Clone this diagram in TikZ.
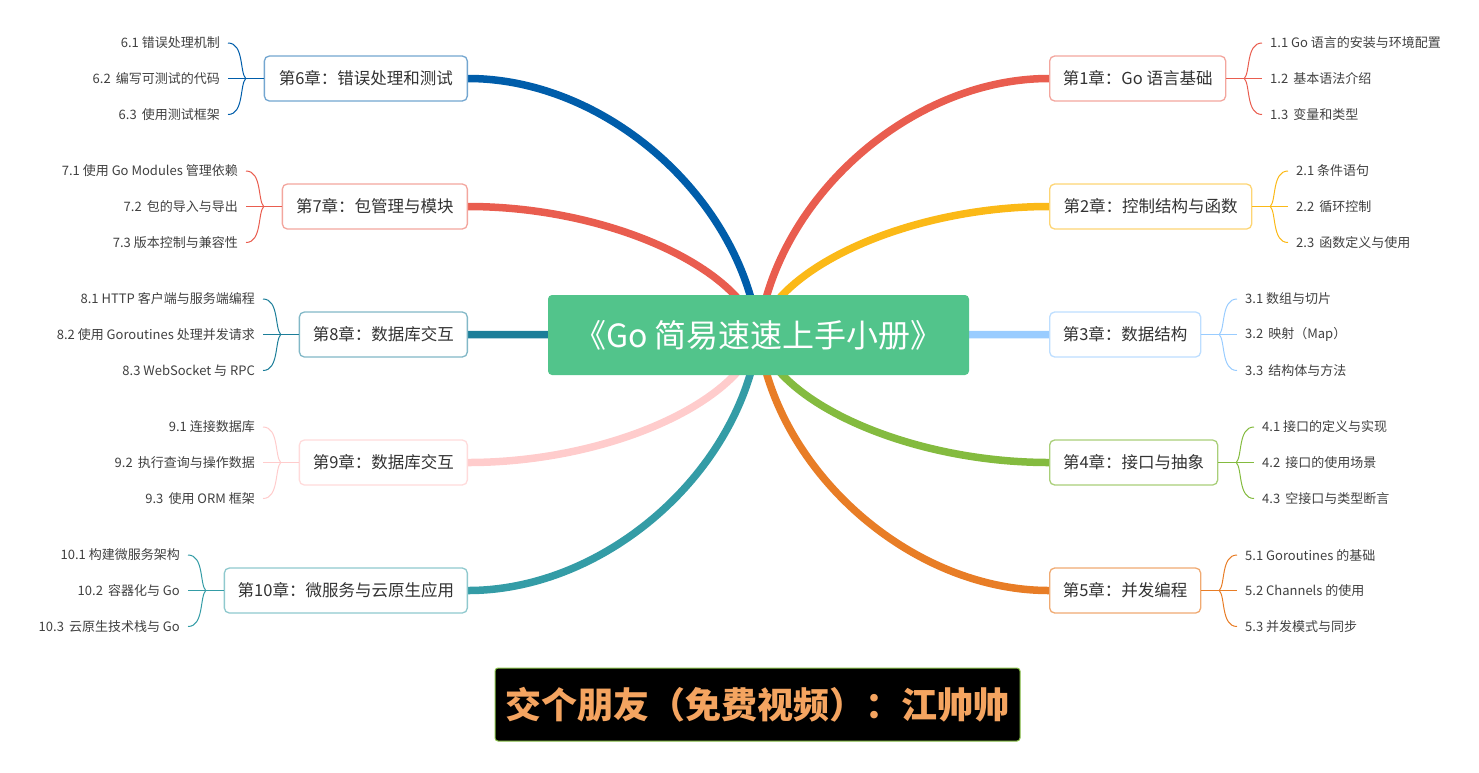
\documentclass[tikz,border=0pt]{standalone}
\usepackage{fontspec}
\setmainfont{Noto Sans CJK SC}
\usetikzlibrary{backgrounds}
\definecolor{txt}{HTML}{333333}
\definecolor{subtxt}{HTML}{404040}
\definecolor{rootg}{HTML}{52C48B}
\definecolor{k1}{HTML}{E95D4F}
\definecolor{k2}{HTML}{FBB917}
\definecolor{k3}{HTML}{99CCFF}
\definecolor{k4}{HTML}{84BB3F}
\definecolor{k5}{HTML}{E87D26}
\definecolor{k6}{HTML}{005DAA}
\definecolor{k7}{HTML}{E95D4F}
\definecolor{k8}{HTML}{1C7E99}
\definecolor{k9}{HTML}{FFCCCC}
\definecolor{k10}{HTML}{349CA6}
\definecolor{bannertxt}{HTML}{F4A460}
\definecolor{bannerline}{HTML}{8BC34A}
\begin{document}
\begin{tikzpicture}[x=1pt,y=-1pt,
  chap/.style={fill=white, line width=1.3pt, rounded corners=5pt, minimum height=45pt,
    inner xsep=0pt, inner ysep=0pt, text=txt, font=\fontsize{16.5}{19}\selectfont},
  subR/.style={anchor=west, inner xsep=8pt, inner ysep=0pt, text=subtxt, font=\fontsize{13}{15}\selectfont},
  subL/.style={anchor=east, inner xsep=8pt, inner ysep=0pt, text=subtxt, font=\fontsize{13}{15}\selectfont},
  conn/.style={line width=7.5pt},
  bline/.style={line width=1pt}]
\useasboundingbox (0,0) rectangle (1479,772);

% root
\node[fill=rootg, rounded corners=4pt, minimum width=421pt, minimum height=80pt, inner sep=0pt,
  text=white, font=\fontsize{32}{38}\selectfont] (root) at (758.5,335) {《Go 简易速速上手小册》};

% right chapters
\node[chap, draw=k1!55, anchor=west, minimum width=176pt] (c1) at (1049,78.5) {第1章：Go 语言基础};
\node[chap, draw=k2!60, anchor=west, minimum width=202pt] (c2) at (1049,206.5) {第2章：控制结构与函数};
\node[chap, draw=k3!65, anchor=west, minimum width=151pt] (c3) at (1049,334.5) {第3章：数据结构};
\node[chap, draw=k4!70, anchor=west, minimum width=168pt] (c4) at (1049,462.5) {第4章：接口与抽象};
\node[chap, draw=k5!65, anchor=west, minimum width=151pt] (c5) at (1049,590.5) {第5章：并发编程};
% left chapters
\node[chap, draw=k6!55, anchor=east, minimum width=203pt] (c6) at (468,78.5) {第6章：错误处理和测试};
\node[chap, draw=k7!55, anchor=east, minimum width=185pt] (c7) at (468,206.5) {第7章：包管理与模块};
\node[chap, draw=k8!55, anchor=east, minimum width=168pt] (c8) at (468,334.5) {第8章：数据库交互};
\node[chap, draw=k9!70, anchor=east, minimum width=168pt] (c9) at (468,462.5) {第9章：数据库交互};
\node[chap, draw=k10!55, anchor=east, minimum width=243pt] (c10) at (468,590.5) {第10章：微服务与云原生应用};

% right subs
\node[subR] (s11) at (1262,43) {1.1 Go 语言的安装与环境配置};
\node[subR] (s12) at (1262,78.5) {1.2\, 基本语法介绍};
\node[subR] (s13) at (1262,114.5) {1.3\, 变量和类型};
\node[subR] (s21) at (1288,171) {2.1 条件语句};
\node[subR] (s22) at (1288,206.5) {2.2\, 循环控制};
\node[subR] (s23) at (1288,242.5) {2.3\, 函数定义与使用};
\node[subR] (s31) at (1237,299) {3.1 数组与切片};
\node[subR] (s32) at (1237,334.5) {3.2\, 映射（Map）};
\node[subR] (s33) at (1237,370.5) {3.3\, 结构体与方法};
\node[subR] (s41) at (1254,427) {4.1 接口的定义与实现};
\node[subR] (s42) at (1254,462.5) {4.2\, 接口的使用场景};
\node[subR] (s43) at (1254,498.5) {4.3\, 空接口与类型断言};
\node[subR] (s51) at (1237,555) {5.1 Goroutines 的基础};
\node[subR] (s52) at (1237,590.5) {5.2 Channels 的使用};
\node[subR] (s53) at (1237,626.5) {5.3 并发模式与同步};
% left subs
\node[subL] (s61) at (228,43) {6.1 错误处理机制};
\node[subL] (s62) at (228,78.5) {6.2\, 编写可测试的代码};
\node[subL] (s63) at (228,114.5) {6.3\, 使用测试框架};
\node[subL] (s71) at (246,171) {7.1 使用 Go Modules 管理依赖};
\node[subL] (s72) at (246,206.5) {7.2\, 包的导入与导出};
\node[subL] (s73) at (246,242.5) {7.3 版本控制与兼容性};
\node[subL] (s81) at (263,299) {8.1 HTTP 客户端与服务端编程};
\node[subL] (s82) at (263,334.5) {8.2 使用 Goroutines 处理并发请求};
\node[subL] (s83) at (263,370.5) {8.3 WebSocket 与 RPC};
\node[subL] (s91) at (263,427) {9.1 连接数据库};
\node[subL] (s92) at (263,462.5) {9.2\, 执行查询与操作数据};
\node[subL] (s93) at (263,498.5) {9.3\, 使用 ORM 框架};
\node[subL] (s101) at (188,555) {10.1 构建微服务架构};
\node[subL] (s102) at (188,590.5) {10.2\, 容器化与 Go};
\node[subL] (s103) at (188,626.5) {10.3\, 云原生技术栈与 Go};

% banner
\node[fill=black, draw=bannerline, line width=1pt, rounded corners=3pt, minimum width=525pt,
  minimum height=73pt, inner sep=0pt, text=bannertxt, font=\fontsize{36}{42}\selectfont\bfseries]
  (banner) at (757.5,704.5) {交个朋友（免费视频）：江帅帅};

% main connectors
\begin{scope}[on background layer]
\draw[conn, k1] (root.center) .. controls +(17,-136) and +(-139,0) .. (c1.west);
\draw[conn, k2] (root.center) .. controls +(17,-68) and +(-139,0) .. (c2.west);
\draw[conn, k3] (root.center) -- (c3.west);
\draw[conn, k4] (root.center) .. controls +(17,68) and +(-139,0) .. (c4.west);
\draw[conn, k5] (root.center) .. controls +(17,135) and +(-139,0) .. (c5.west);
\draw[conn, k6] (root.center) .. controls +(-17,-136) and +(139,0) .. (c6.east);
\draw[conn, k7] (root.center) .. controls +(-17,-68) and +(139,0) .. (c7.east);
\draw[conn, k8] (root.center) -- (c8.east);
\draw[conn, k9] (root.center) .. controls +(-17,68) and +(139,0) .. (c9.east);
\draw[conn, k10] (root.center) .. controls +(-17,135) and +(139,0) .. (c10.east);
\end{scope}

% braces right
\foreach \c/\a/\b/\d/\col in {c1/s11/s12/s13/k1, c2/s21/s22/s23/k2, c3/s31/s32/s33/k3, c4/s41/s42/s43/k4, c5/s51/s52/s53/k5}{
  \draw[bline, \col] (\c.east) -- (\b.west);
  \draw[bline, \col] ([xshift=18pt]\c.east) .. controls +(6,-6) and +(-16,0) .. (\a.west);
  \draw[bline, \col] ([xshift=18pt]\c.east) .. controls +(6,6) and +(-16,0) .. (\d.west);
}
% braces left
\foreach \c/\a/\b/\d/\col in {c6/s61/s62/s63/k6, c7/s71/s72/s73/k7, c8/s81/s82/s83/k8, c9/s91/s92/s93/k9, c10/s101/s102/s103/k10}{
  \draw[bline, \col] (\c.west) -- (\b.east);
  \draw[bline, \col] ([xshift=-18pt]\c.west) .. controls +(-6,-6) and +(16,0) .. (\a.east);
  \draw[bline, \col] ([xshift=-18pt]\c.west) .. controls +(-6,6) and +(16,0) .. (\d.east);
}
\end{tikzpicture}
\end{document}
